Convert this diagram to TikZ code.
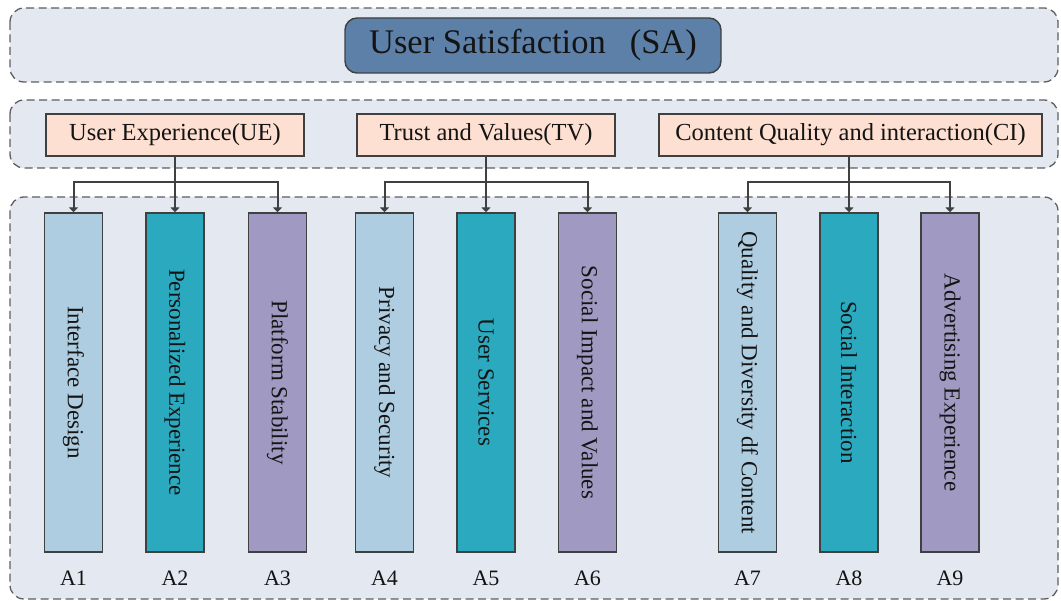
\documentclass[tikz,border=0pt]{standalone}
\usepackage{fontspec}
\setmainfont{Liberation Serif}
\usetikzlibrary{arrows.meta}
\definecolor{panelfill}{RGB}{228,232,240}
\definecolor{paneledge}{RGB}{95,95,95}
\definecolor{satfill}{RGB}{92,128,168}
\definecolor{dimfill}{RGB}{253,224,210}
\definecolor{edgegray}{RGB}{64,64,64}
\definecolor{barblue}{RGB}{175,205,224}
\definecolor{barteal}{RGB}{42,169,191}
\definecolor{barpurple}{RGB}{160,154,194}
\definecolor{inkcol}{RGB}{20,20,20}
\begin{document}
\begin{tikzpicture}[x=1pt,y=-1pt,
  panel/.style={draw=paneledge, fill=panelfill, dashed, dash pattern=on 8pt off 4.5pt,
    line width=1.3pt, rounded corners=14pt},
  satbox/.style={draw=edgegray, fill=satfill, line width=1.4pt, rounded corners=12pt,
    minimum width=376pt, minimum height=55pt, inner sep=0pt, text=inkcol,
    font=\fontsize{34.5}{38}\selectfont},
  dimbox/.style={draw=edgegray, fill=dimfill, line width=1.4pt, minimum height=42pt,
    inner sep=0pt, text=inkcol, font=\fontsize{24.5}{28}\selectfont},
  bar/.style={draw=edgegray, line width=1.4pt, minimum width=58pt, minimum height=339pt,
    inner sep=0pt, text=inkcol, font=\fontsize{23}{26}\selectfont},
  tag/.style={text=inkcol, inner sep=0pt, font=\fontsize{22}{24}\selectfont},
  link/.style={draw=edgegray, line width=2pt},
  arr/.style={link, -{Triangle[width=9pt,length=5pt]}}
]
\useasboundingbox (0,0) rectangle (1061,601);

% background bands
\path[panel] (10,8) rectangle (1058,82);
\path[panel] (10,100) rectangle (1058,168);
\path[panel] (10,197) rectangle (1058,599);

% goal
\node[satbox] (sa) at (533,45.5) {User Satisfaction\hspace{24pt}(SA)};

% dimensions
\node[dimbox, minimum width=258pt] (ue) at (175,135) {User Experience(UE)};
\node[dimbox, minimum width=258pt] (tv) at (486,135) {Trust and Values(TV)};
\node[dimbox, minimum width=383pt] (ci) at (850.5,135) {Content Quality and interaction(CI)};

% indicators
\node[bar, fill=barblue]   (a1) at (73.5,382.5)  {\rotatebox{-90}{Interface Design}};
\node[bar, fill=barteal]   (a2) at (175,382.5)   {\rotatebox{-90}{Personalized Experience}};
\node[bar, fill=barpurple] (a3) at (277.5,382.5) {\rotatebox{-90}{Platform Stability}};
\node[bar, fill=barblue]   (a4) at (384.5,382.5) {\rotatebox{-90}{Privacy and Security}};
\node[bar, fill=barteal]   (a5) at (486,382.5)   {\rotatebox{-90}{User Services}};
\node[bar, fill=barpurple] (a6) at (587.5,382.5) {\rotatebox{-90}{Social Impact and Values}};
\node[bar, fill=barblue]   (a7) at (747.5,382.5) {\rotatebox{-90}{Quality and Diversity df Content}};
\node[bar, fill=barteal]   (a8) at (849,382.5)   {\rotatebox{-90}{Social Interaction}};
\node[bar, fill=barpurple] (a9) at (950,382.5)   {\rotatebox{-90}{Advertising Experience}};

% indicator codes
\foreach \i in {1,...,9} {
  \node[tag, anchor=center] (t\i) at ([yshift=-26pt]a\i.south) {A\i};
}

% tree connectors: each trunk drops over the middle bar of its group
\coordinate (ueJ) at (a2.north |- 0,182);
\coordinate (tvJ) at (a5.north |- 0,182);
\coordinate (ciJ) at (a8.north |- 0,182);
\draw[link] (ue.south -| ueJ) -- (ueJ);
\draw[link] (tv.south -| tvJ) -- (tvJ);
\draw[link] (ci.south -| ciJ) -- (ciJ);
\draw[arr] (ueJ) -| (a1.north);
\draw[arr] (ueJ) -- (a2.north);
\draw[arr] (ueJ) -| (a3.north);
\draw[arr] (tvJ) -| (a4.north);
\draw[arr] (tvJ) -- (a5.north);
\draw[arr] (tvJ) -| (a6.north);
\draw[arr] (ciJ) -| (a7.north);
\draw[arr] (ciJ) -- (a8.north);
\draw[arr] (ciJ) -| (a9.north);
\end{tikzpicture}
\end{document}
